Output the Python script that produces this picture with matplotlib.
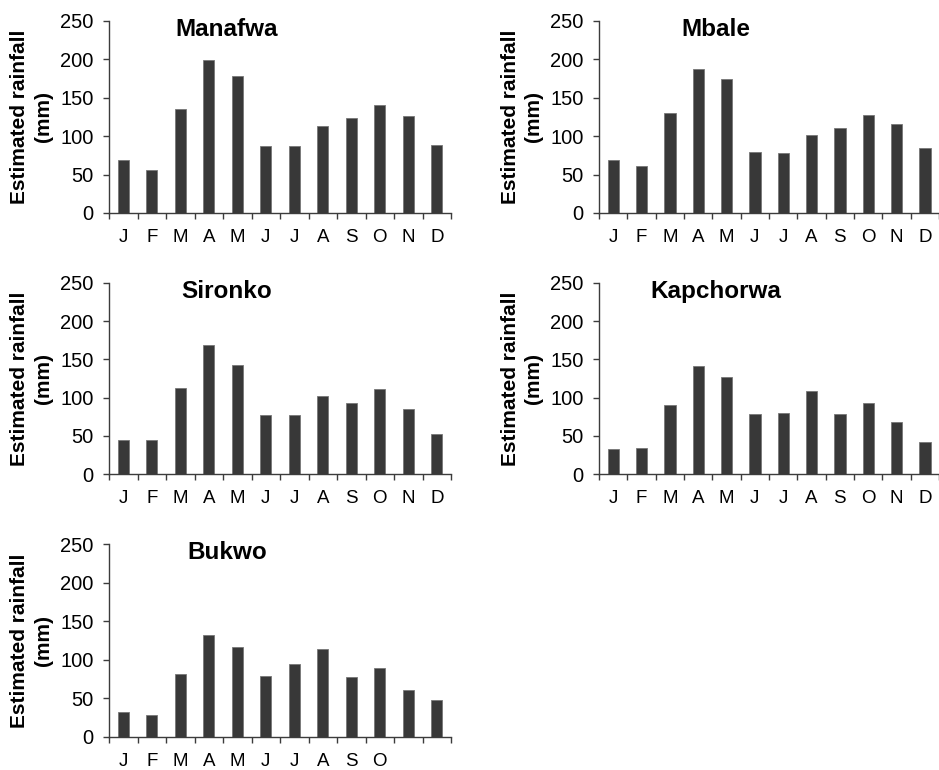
import matplotlib.pyplot as plt
import numpy as np

plt.rcParams['font.family'] = ['Liberation Sans', 'DejaVu Sans']

months = ['J', 'F', 'M', 'A', 'M', 'J', 'J', 'A', 'S', 'O', 'N', 'D']
# Bukwo panel only has labels up to October
months_bukwo = ['J', 'F', 'M', 'A', 'M', 'J', 'J', 'A', 'S', 'O', '', '']

manafwa = [69, 56, 135, 199, 179, 87, 87, 113, 124, 141, 126, 88]
mbale = [69, 61, 130, 188, 174, 79, 78, 102, 111, 127, 116, 85]
sironko = [44, 44, 112, 169, 143, 77, 77, 102, 93, 111, 85, 52]
kapchorwa = [33, 34, 90, 142, 127, 78, 80, 108, 78, 93, 68, 42]
bukwo = [33, 29, 82, 132, 116, 79, 95, 114, 78, 90, 61, 48]

W, H = 939, 770
fig = plt.figure(figsize=(W / 100, H / 100), dpi=100)

# (name, values, labels, left, top, right, bottom) in pixels
panels = [
    ('Manafwa', manafwa, months, 109, 21, 451, 213),
    ('Mbale', mbale, months, 599, 21, 939, 213),
    ('Sironko', sironko, months, 109, 283, 451, 474),
    ('Kapchorwa', kapchorwa, months, 599, 283, 939, 474),
    ('Bukwo', bukwo, months_bukwo, 109, 544, 451, 737),
]

bar_color = '#383838'
axis_color = '#3c3c3c'

for name, vals, labels, l, t, r, b in panels:
    ax = fig.add_axes([l / W, 1 - b / H, (r - l) / W, (b - t) / H])
    x = np.arange(12)
    ax.bar(x, vals, width=0.4, color=bar_color, edgecolor='#777777', linewidth=0.6)
    ax.set_xlim(-0.5, 11.5)
    ax.set_ylim(0, 250)
    ax.set_yticks([0, 50, 100, 150, 200, 250])
    ax.set_xticks(x)
    ax.set_xticklabels(labels)
    ax.set_xticks(np.arange(-0.5, 12, 1), minor=True)
    ax.tick_params(axis='x', which='major', length=0, pad=11.5, labelsize=13.5)
    ax.tick_params(axis='x', which='minor', length=4.5, width=1, color=axis_color, direction='out')
    ax.tick_params(axis='y', length=4.5, width=1, color=axis_color, labelsize=14.5, pad=6.5)
    for s in ['top', 'right']:
        ax.spines[s].set_visible(False)
    for s in ['left', 'bottom']:
        ax.spines[s].set_color(axis_color)
        ax.spines[s].set_linewidth(1)
    ax.set_ylabel('Estimated rainfall\n(mm)', fontsize=15, fontweight='bold',
                  linespacing=1.3)
    ax.yaxis.set_label_coords(-56 / (r - l), 0.5)
    ax.text(0.345, 0.955, name, transform=ax.transAxes, ha='center', va='center',
            fontsize=17.5, fontweight='bold')

fig.savefig('out.png', dpi=100)
